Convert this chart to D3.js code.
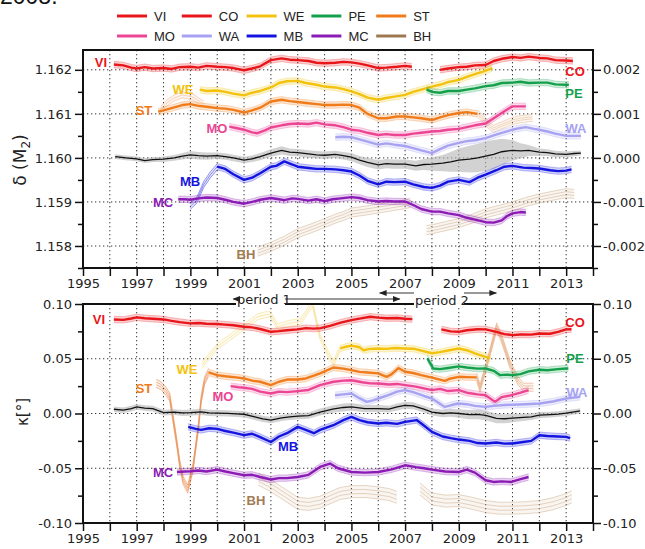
<!DOCTYPE html>
<html><head><meta charset="utf-8">
<script src="https://cdn.jsdelivr.net/npm/d3@7"></script>
<style>body{margin:0;background:#fff}svg{display:block}</style>
</head><body>
<svg id="c" width="645" height="549"></svg>
<script>
// ---------------- DATA ----------------
const stations = ["VI","CO","WE","PE","ST","MO","WA","MB","MC","BH"];
const stationColors = ["#e8161b","#e8161b","#f2c20f","#14a04a","#f07b1b","#ec4594","#a7a3f2","#1414e0","#8b1bb5","#9c7750"];
const yearTicks = d3.range(1995, 2015);
const yearLabels = [1995,1997,1999,2001,2003,2005,2007,2009,2011,2013];
const deltaTicks = [1.158,1.159,1.160,1.161,1.162];
const deltaAnomTicks = [-0.002,-0.001,0,0.001,0.002];
const kappaTicks = [-0.10,-0.05,0,0.05,0.10];

// top panel: delta(M2)
const vi_top = [[1996.15,1.16212],[1996.5,1.16210],[1996.8,1.16205],[1997.0,1.16203],[1997.3,1.16206],[1997.6,1.16203],[1998.0,1.16204],[1998.3,1.16202],[1998.6,1.16206],[1999.0,1.16207],[1999.3,1.16205],[1999.6,1.16209],[2000.0,1.16207],[2000.3,1.16206],[2000.6,1.16204],[2001.0,1.16199],[2001.3,1.16203],[2001.6,1.16208],[2002.0,1.16222],[2002.4,1.16226],[2002.7,1.16223],[2003.0,1.16222],[2003.4,1.16220],[2003.7,1.16216],[2004.0,1.16215],[2004.4,1.16216],[2004.7,1.16218],[2005.0,1.16217],[2005.3,1.16214],[2005.6,1.16210],[2006.0,1.16204],[2006.3,1.16205],[2006.7,1.16207],[2007.0,1.16209],[2007.25,1.16207]];
const co_top = [[2008.3,1.16200],[2008.6,1.16203],[2009.0,1.16206],[2009.3,1.16207],[2009.6,1.16210],[2010.0,1.16211],[2010.3,1.16220],[2010.6,1.16225],[2011.0,1.16229],[2011.3,1.16227],[2011.6,1.16230],[2012.0,1.16227],[2012.3,1.16226],[2012.6,1.16222],[2013.0,1.16221],[2013.25,1.16220]];
const we_top = [[1999.35,1.16155],[1999.6,1.16152],[2000.0,1.16153],[2000.3,1.16150],[2000.6,1.16146],[2001.0,1.16142],[2001.3,1.16148],[2001.6,1.16152],[2002.0,1.16160],[2002.3,1.16170],[2002.6,1.16174],[2003.0,1.16175],[2003.3,1.16170],[2003.7,1.16166],[2004.0,1.16162],[2004.4,1.16160],[2004.7,1.16156],[2005.0,1.16151],[2005.3,1.16145],[2005.6,1.16137],[2006.0,1.16132],[2006.3,1.16136],[2006.6,1.16139],[2007.0,1.16143],[2007.3,1.16150],[2007.6,1.16155],[2008.0,1.16162],[2008.3,1.16166],[2008.6,1.16172],[2009.0,1.16177],[2009.3,1.16184],[2009.6,1.16190],[2009.9,1.16196],[2010.25,1.16204]];
const pe_top = [[2007.8,1.16155],[2008.0,1.16150],[2008.3,1.16148],[2008.6,1.16152],[2009.0,1.16152],[2009.3,1.16155],[2009.6,1.16158],[2010.0,1.16163],[2010.3,1.16165],[2010.6,1.16170],[2011.0,1.16171],[2011.3,1.16173],[2011.6,1.16170],[2012.0,1.16171],[2012.3,1.16171],[2012.6,1.16167],[2013.0,1.16166],[2013.1,1.16166]];
const st_top = [[1997.8,1.16105],[1998.0,1.16108],[1998.3,1.16113],[1998.7,1.16120],[1999.0,1.16122],[1999.3,1.16118],[1999.6,1.16116],[2000.0,1.16113],[2000.3,1.16112],[2000.6,1.16109],[2001.0,1.16103],[2001.3,1.16108],[2001.6,1.16114],[2002.0,1.16128],[2002.4,1.16132],[2002.7,1.16129],[2003.0,1.16127],[2003.4,1.16124],[2003.7,1.16122],[2004.0,1.16120],[2004.4,1.16120],[2004.7,1.16121],[2005.0,1.16120],[2005.3,1.16114],[2005.6,1.16100],[2006.0,1.16090],[2006.3,1.16090],[2006.7,1.16094],[2007.0,1.16094],[2007.3,1.16092],[2007.6,1.16090],[2008.0,1.16086],[2008.3,1.16092],[2008.6,1.16097],[2009.0,1.16102],[2009.3,1.16104],[2009.7,1.16100]];
const st_top_weak1 = [[1997.9,1.16110],[1998.1,1.16124],[1998.4,1.16136],[1998.7,1.16143],[1999.1,1.16138],[1999.5,1.16122]];
const st_top_weak2 = [[2009.7,1.16100],[2009.9,1.16090],[2010.1,1.16075],[2010.3,1.16066],[2010.6,1.16074],[2011.0,1.16084],[2011.3,1.16088],[2011.75,1.16091]];
const mo_top = [[2000.45,1.16071],[2000.7,1.16068],[2001.0,1.16064],[2001.3,1.16058],[2001.5,1.16056],[2001.8,1.16063],[2002.0,1.16069],[2002.4,1.16074],[2002.7,1.16077],[2003.0,1.16078],[2003.4,1.16077],[2003.7,1.16080],[2004.0,1.16076],[2004.4,1.16074],[2004.7,1.16070],[2005.0,1.16064],[2005.3,1.16062],[2005.6,1.16057],[2006.0,1.16052],[2006.3,1.16054],[2006.6,1.16052],[2007.0,1.16052],[2007.3,1.16055],[2007.6,1.16057],[2008.0,1.16060],[2008.3,1.16061],[2008.6,1.16064],[2009.0,1.16066],[2009.3,1.16070],[2009.6,1.16074],[2010.0,1.16078],[2010.3,1.16090],[2010.6,1.16102],[2010.8,1.16110],[2011.0,1.16117],[2011.5,1.16117]];
const wa_top = [[2004.4,1.16047],[2004.7,1.16048],[2005.0,1.16047],[2005.3,1.16042],[2005.6,1.16037],[2006.0,1.16030],[2006.3,1.16033],[2006.6,1.16030],[2007.0,1.16027],[2007.3,1.16022],[2007.6,1.16017],[2008.0,1.16011],[2008.3,1.16020],[2008.6,1.16028],[2009.0,1.16034],[2009.3,1.16038],[2009.6,1.16040],[2010.0,1.16045],[2010.3,1.16051],[2010.6,1.16057],[2011.0,1.16064],[2011.3,1.16068],[2011.5,1.16070],[2011.8,1.16066],[2012.0,1.16064],[2012.3,1.16060],[2012.6,1.16055],[2013.0,1.16050],[2013.3,1.16050],[2013.55,1.16050]];
const mb_top_weak = [[1999.0,1.15890],[1999.25,1.15905],[1999.5,1.15940],[1999.75,1.15962],[2000.0,1.15980]];
const mb_top = [[2000.0,1.15980],[2000.3,1.15975],[2000.6,1.15963],[2001.0,1.15950],[2001.3,1.15955],[2001.6,1.15965],[2002.0,1.15980],[2002.2,1.15982],[2002.5,1.15992],[2002.8,1.15985],[2003.0,1.15980],[2003.4,1.15977],[2003.7,1.15975],[2004.0,1.15975],[2004.4,1.15974],[2004.7,1.15972],[2005.0,1.15969],[2005.3,1.15960],[2005.6,1.15948],[2006.0,1.15940],[2006.3,1.15946],[2006.6,1.15945],[2007.0,1.15946],[2007.3,1.15940],[2007.7,1.15934],[2008.0,1.15932],[2008.3,1.15937],[2008.6,1.15946],[2009.0,1.15950],[2009.4,1.15945],[2009.7,1.15955],[2010.0,1.15962],[2010.4,1.15972],[2010.7,1.15980],[2011.0,1.15982],[2011.4,1.15978],[2011.7,1.15977],[2012.0,1.15976],[2012.4,1.15972],[2012.7,1.15970],[2013.0,1.15971],[2013.2,1.15974]];
const mc_top = [[1998.55,1.15906],[1998.8,1.15906],[1999.0,1.15905],[1999.3,1.15908],[1999.6,1.15910],[2000.0,1.15909],[2000.3,1.15905],[2000.6,1.15900],[2001.0,1.15896],[2001.3,1.15900],[2001.6,1.15905],[2002.0,1.15909],[2002.3,1.15906],[2002.5,1.15904],[2002.8,1.15908],[2003.0,1.15907],[2003.4,1.15903],[2003.7,1.15906],[2004.0,1.15902],[2004.3,1.15906],[2004.6,1.15908],[2005.0,1.15911],[2005.3,1.15909],[2005.6,1.15904],[2006.0,1.15901],[2006.3,1.15902],[2006.6,1.15901],[2007.0,1.15901],[2007.3,1.15893],[2007.6,1.15884],[2008.0,1.15878],[2008.3,1.15878],[2008.6,1.15874],[2009.0,1.15870],[2009.3,1.15864],[2009.6,1.15860],[2010.0,1.15854],[2010.3,1.15853],[2010.6,1.15858],[2010.8,1.15868],[2011.0,1.15874],[2011.3,1.15877],[2011.5,1.15876]];
const bh_top_a = [[2001.5,1.15787],[2002.0,1.15798],[2002.5,1.15812],[2003.0,1.15829],[2003.5,1.15840],[2004.0,1.15852],[2004.4,1.15862],[2004.7,1.15868],[2005.0,1.15876],[2005.5,1.15880],[2006.0,1.15885],[2006.5,1.15890],[2007.0,1.15895],[2007.2,1.15898]];
const bh_top_b = [[2007.8,1.15836],[2008.0,1.15838],[2008.5,1.15845],[2009.0,1.15852],[2009.5,1.15862],[2010.0,1.15874],[2010.5,1.15882],[2011.0,1.15890],[2011.5,1.15900],[2012.0,1.15908],[2012.5,1.15914],[2013.0,1.15920],[2013.3,1.15918]];
// mean curve: [year, value, uncertainty]
const mean_top = [[1996.2,1.16003,0.00002],[1996.6,1.16000,0.00002],[1997.0,1.15998,0.00002],[1997.3,1.15994,0.00002],[1997.6,1.15996,0.00002],[1998.0,1.15997,0.00003],[1998.4,1.16000,0.00003],[1998.7,1.16004,0.00004],[1999.0,1.16007,0.00005],[1999.3,1.16005,0.00005],[1999.6,1.16004,0.00005],[2000.0,1.16005,0.00004],[2000.3,1.16003,0.00004],[2000.6,1.16000,0.00004],[2001.0,1.15995,0.00004],[2001.3,1.15998,0.00004],[2001.6,1.16003,0.00005],[2002.0,1.16011,0.00005],[2002.4,1.16017,0.00006],[2002.7,1.16013,0.00005],[2003.0,1.16012,0.00005],[2003.4,1.16009,0.00005],[2003.7,1.16007,0.00005],[2004.0,1.16006,0.00005],[2004.4,1.16008,0.00005],[2004.7,1.16005,0.00005],[2005.0,1.16002,0.00006],[2005.3,1.15995,0.00006],[2005.6,1.15990,0.00007],[2006.0,1.15984,0.00007],[2006.3,1.15987,0.00007],[2006.6,1.15986,0.00007],[2007.0,1.15986,0.00007],[2007.4,1.15982,0.00008],[2007.7,1.15985,0.00009],[2008.0,1.15986,0.00012],[2008.4,1.15988,0.00015],[2008.7,1.15991,0.00019],[2009.0,1.15995,0.00023],[2009.4,1.15997,0.00027],[2009.7,1.16000,0.00029],[2010.0,1.16004,0.00030],[2010.3,1.16008,0.00029],[2010.6,1.16014,0.00026],[2011.0,1.16017,0.00020],[2011.3,1.16016,0.00014],[2011.6,1.16017,0.00009],[2012.0,1.16013,0.00005],[2012.3,1.16012,0.00004],[2012.6,1.16009,0.00004],[2013.0,1.16008,0.00003],[2013.3,1.16010,0.00003],[2013.55,1.16011,0.00002]];

// bottom panel: kappa (deg)
const vi_bot = [[1996.15,0.0859],[1996.5,0.0855],[1996.8,0.0868],[1997.0,0.0878],[1997.3,0.0870],[1997.6,0.0865],[1998.0,0.0859],[1998.3,0.0846],[1998.6,0.0835],[1999.0,0.0823],[1999.3,0.0826],[1999.6,0.0820],[2000.0,0.0817],[2000.3,0.0812],[2000.6,0.0806],[2001.0,0.0792],[2001.3,0.0787],[2001.6,0.0772],[2002.0,0.0746],[2002.3,0.0752],[2002.6,0.0760],[2003.0,0.0768],[2003.3,0.0780],[2003.6,0.0775],[2003.85,0.0780],[2004.2,0.0800],[2004.6,0.0830],[2005.0,0.0853],[2005.3,0.0866],[2005.7,0.0884],[2006.0,0.0876],[2006.3,0.0870],[2006.7,0.0872],[2007.0,0.0865],[2007.27,0.0862]];
const co_bot = [[2008.35,0.0768],[2008.7,0.0750],[2009.0,0.0746],[2009.3,0.0760],[2009.7,0.0770],[2010.0,0.0768],[2010.4,0.0745],[2010.7,0.0725],[2011.0,0.0716],[2011.3,0.0722],[2011.7,0.0720],[2012.0,0.0731],[2012.4,0.0728],[2012.7,0.0745],[2013.0,0.0768],[2013.2,0.0770]];
const we_bot_weak = [[1999.43,0.0441],[2000.0,0.0610],[2000.5,0.0700],[2001.0,0.0790],[2001.5,0.0883],[2001.85,0.0905],[2002.0,0.0900],[2002.25,0.0790],[2002.7,0.0825],[2003.1,0.0838],[2003.4,0.0948],[2003.55,0.1000],[2003.83,0.0700],[2004.1,0.0560],[2004.33,0.0457],[2004.58,0.0594]];
const we_bot = [[2004.58,0.0594],[2004.8,0.0610],[2005.0,0.0620],[2005.3,0.0605],[2005.45,0.0578],[2005.7,0.0590],[2006.0,0.0594],[2006.3,0.0590],[2006.6,0.0598],[2007.0,0.0594],[2007.3,0.0592],[2007.6,0.0575],[2008.0,0.0550],[2008.3,0.0560],[2008.6,0.0575],[2009.0,0.0594],[2009.3,0.0578],[2009.6,0.0550],[2010.0,0.0518],[2010.17,0.0505]];
const pe_bot = [[2007.83,0.0503],[2008.05,0.0411],[2008.3,0.0405],[2008.6,0.0415],[2009.0,0.0430],[2009.3,0.0420],[2009.7,0.0410],[2010.0,0.0411],[2010.3,0.0390],[2010.54,0.0350],[2010.8,0.0355],[2011.0,0.0350],[2011.3,0.0360],[2011.6,0.0385],[2012.0,0.0400],[2012.3,0.0395],[2012.7,0.0405],[2013.0,0.0411],[2013.08,0.0411]];
const st_bot_weak1 = [[1997.73,0.0274],[1997.9,0.0255],[1998.1,0.0200],[1998.23,0.0150],[1998.48,-0.0244],[1998.6,-0.0455],[1998.73,-0.0610],[1998.9,-0.0690],[1999.1,-0.0490],[1999.3,-0.0122],[1999.4,0.0122],[1999.53,0.0300],[1999.68,0.0375]];
const st_bot = [[1999.68,0.0375],[2000.0,0.0351],[2000.3,0.0340],[2000.7,0.0330],[2001.0,0.0320],[2001.3,0.0300],[2001.6,0.0290],[2002.0,0.0259],[2002.3,0.0290],[2002.6,0.0310],[2003.0,0.0310],[2003.3,0.0320],[2003.6,0.0345],[2003.83,0.0366],[2004.33,0.0420],[2004.7,0.0410],[2005.0,0.0396],[2005.3,0.0380],[2005.6,0.0375],[2006.0,0.0366],[2006.31,0.0335],[2006.5,0.0360],[2006.75,0.0415],[2007.0,0.0381],[2007.3,0.0370],[2007.6,0.0350],[2008.0,0.0328],[2008.48,0.0298],[2008.7,0.0320],[2009.0,0.0335],[2009.3,0.0332],[2009.67,0.0330]];
const st_bot_weak2 = [[2009.67,0.0330],[2009.79,0.0230],[2010.1,0.0500],[2010.41,0.0790],[2010.6,0.0680],[2010.91,0.0450],[2011.2,0.0300],[2011.41,0.0240],[2011.78,0.0240]];
const mo_bot = [[2000.5,0.0250],[2000.8,0.0240],[2001.0,0.0235],[2001.3,0.0225],[2001.6,0.0200],[2002.0,0.0183],[2002.3,0.0200],[2002.6,0.0195],[2003.0,0.0204],[2003.4,0.0215],[2003.83,0.0259],[2004.33,0.0290],[2004.7,0.0300],[2005.0,0.0304],[2005.4,0.0285],[2005.7,0.0275],[2006.0,0.0274],[2006.4,0.0265],[2006.7,0.0270],[2007.0,0.0259],[2007.4,0.0245],[2007.7,0.0230],[2008.0,0.0213],[2008.3,0.0225],[2008.6,0.0205],[2009.0,0.0213],[2009.3,0.0190],[2009.7,0.0175],[2010.0,0.0167],[2010.35,0.0106],[2010.6,0.0150],[2010.96,0.0167],[2011.3,0.0190],[2011.6,0.0213]];
const wa_bot = [[2004.39,0.0167],[2004.7,0.0175],[2005.0,0.0183],[2005.3,0.0140],[2005.57,0.0106],[2005.8,0.0120],[2006.0,0.0137],[2006.4,0.0170],[2006.7,0.0200],[2007.0,0.0213],[2007.3,0.0195],[2007.7,0.0160],[2008.0,0.0137],[2008.48,0.0060],[2008.7,0.0075],[2008.97,0.0091],[2009.3,0.0085],[2009.6,0.0070],[2010.0,0.0060],[2010.3,0.0070],[2010.7,0.0078],[2011.0,0.0080],[2011.5,0.0085],[2012.0,0.0091],[2012.5,0.0110],[2013.0,0.0137],[2013.52,0.0152]];
const mb_bot = [[1998.92,-0.0122],[1999.2,-0.0140],[1999.4,-0.0150],[1999.7,-0.0135],[2000.0,-0.0140],[2000.3,-0.0160],[2000.6,-0.0175],[2001.0,-0.0198],[2001.3,-0.0185],[2001.6,-0.0215],[2002.0,-0.0260],[2002.3,-0.0210],[2002.6,-0.0180],[2003.0,-0.0122],[2003.3,-0.0150],[2003.6,-0.0180],[2003.83,-0.0150],[2004.33,-0.0107],[2004.7,-0.0060],[2005.0,-0.0031],[2005.3,-0.0060],[2005.6,-0.0080],[2006.0,-0.0091],[2006.3,-0.0085],[2006.7,-0.0095],[2007.0,-0.0076],[2007.43,-0.0060],[2007.7,-0.0110],[2008.0,-0.0168],[2008.4,-0.0210],[2008.7,-0.0225],[2009.0,-0.0238],[2009.4,-0.0250],[2009.7,-0.0270],[2010.0,-0.0274],[2010.4,-0.0265],[2010.7,-0.0275],[2011.0,-0.0274],[2011.4,-0.0260],[2011.7,-0.0250],[2012.0,-0.0198],[2012.3,-0.0205],[2012.7,-0.0210],[2013.0,-0.0213],[2013.15,-0.0225]];
const mc_bot = [[1998.5,-0.0534],[1998.8,-0.0530],[1999.0,-0.0528],[1999.3,-0.0520],[1999.6,-0.0530],[2000.0,-0.0513],[2000.3,-0.0530],[2000.6,-0.0545],[2001.0,-0.0564],[2001.3,-0.0560],[2001.6,-0.0580],[2002.0,-0.0603],[2002.3,-0.0590],[2002.6,-0.0590],[2003.0,-0.0580],[2003.4,-0.0560],[2003.83,-0.0488],[2004.2,-0.0457],[2004.5,-0.0500],[2005.0,-0.0534],[2005.5,-0.0540],[2006.0,-0.0534],[2006.5,-0.0510],[2007.0,-0.0473],[2007.4,-0.0490],[2007.7,-0.0500],[2008.0,-0.0513],[2008.5,-0.0530],[2009.0,-0.0534],[2009.3,-0.0513],[2009.6,-0.0540],[2010.0,-0.0610],[2010.29,-0.0625],[2010.6,-0.0620],[2010.96,-0.0625],[2011.3,-0.0600],[2011.6,-0.0580]];
const bh_bot_a = [[2001.53,-0.0600],[2002.0,-0.0660],[2002.5,-0.0740],[2003.0,-0.0820],[2003.4,-0.0830],[2003.83,-0.0810],[2004.2,-0.0770],[2004.58,-0.0730],[2005.0,-0.0715],[2005.5,-0.0712],[2006.0,-0.0725],[2006.4,-0.0740],[2006.69,-0.0765]];
const bh_bot_b = [[2007.56,-0.0690],[2007.8,-0.0740],[2008.0,-0.0780],[2008.5,-0.0800],[2009.0,-0.0795],[2009.5,-0.0820],[2010.0,-0.0850],[2010.5,-0.0865],[2011.0,-0.0865],[2011.5,-0.0860],[2012.0,-0.0850],[2012.5,-0.0825],[2013.0,-0.0785],[2013.21,-0.0760]];
const mean_bot = [[1996.15,0.0039,0.0012],[1996.5,0.0030,0.0012],[1996.8,0.0045,0.0012],[1997.0,0.0061,0.0012],[1997.3,0.0050,0.0012],[1997.6,0.0045,0.0012],[1998.0,0.0008,0.0012],[1998.4,0.0012,0.0012],[1998.7,0.0005,0.0014],[1999.0,0.0008,0.0015],[1999.4,0.0015,0.0015],[1999.7,0.0005,0.0015],[2000.0,0.0003,0.0015],[2000.4,0.0002,0.0015],[2000.7,-0.0003,0.0015],[2001.0,-0.0007,0.0015],[2001.4,-0.0030,0.0015],[2001.7,-0.0050,0.0015],[2002.0,-0.0061,0.0015],[2002.4,-0.0040,0.0015],[2002.7,-0.0030,0.0015],[2003.0,-0.0024,0.0015],[2003.4,-0.0020,0.0015],[2003.83,0.0013,0.0018],[2004.3,0.0040,0.0020],[2004.7,0.0055,0.0022],[2005.0,0.0060,0.0022],[2005.5,0.0045,0.0020],[2006.0,0.0045,0.0018],[2006.4,0.0040,0.0018],[2006.7,0.0060,0.0018],[2007.0,0.0074,0.0018],[2007.3,0.0070,0.0018],[2007.7,0.0040,0.0018],[2008.0,0.0013,0.0018],[2008.4,0.0000,0.0020],[2008.7,0.0005,0.0022],[2009.0,0.0000,0.0025],[2009.4,-0.0010,0.0028],[2009.7,-0.0008,0.0030],[2010.0,-0.0017,0.0030],[2010.4,-0.0045,0.0030],[2010.7,-0.0048,0.0028],[2011.0,-0.0042,0.0025],[2011.4,-0.0035,0.0020],[2011.7,-0.0030,0.0016],[2012.0,-0.0015,0.0014],[2012.4,-0.0010,0.0012],[2012.7,-0.0005,0.0012],[2013.0,0.0003,0.0012],[2013.3,0.0015,0.0010],[2013.52,0.0024,0.0010]];

// ---------------- CHART ----------------
const svg = d3.select("#c");
const col = Object.fromEntries(stations.map((s,i)=>[s, stationColors[i]]));
const x = d3.scaleLinear().domain([1995,2014]).range([83,593]);
const yT = d3.scaleLinear().domain([1.1575,1.16245]).range([268,50]);
const yTR = d3.scaleLinear().domain([1.1575-1.16,1.16245-1.16]).range([268,50]);
const yB = d3.scaleLinear().domain([-0.10,0.10]).range([523,304]);
const TICKFONT = "'DejaVu Sans', Verdana, sans-serif";

// caption fragment at top (cropped in the original figure)
svg.append("text").attr("x",0).attr("y",4).attr("font-family","'Liberation Sans',Arial,sans-serif")
  .attr("font-size",23).attr("fill","#111").text("2008.");

// legend
const legG = svg.append("g");
stations.forEach((s,i)=>{
  const r = Math.floor(i/5), c = i%5;
  const lx = 117 + c*64.8, ly = 16 + r*20;
  legG.append("line").attr("x1",lx).attr("x2",lx+30).attr("y1",ly).attr("y2",ly)
    .attr("stroke",col[s]).attr("stroke-width",3);
  legG.append("text").attr("x",lx+37).attr("y",ly+4.5).attr("font-family","'Liberation Sans',Arial,sans-serif")
    .attr("font-size",13).attr("fill","#222").text(s);
});

function panel(ys, yticks, yMinor, fmtL, ysR, yticksR, fmtR, yMinorR, top, bottom, clipId) {
  const g = svg.append("g");
  g.selectAll(null).data(yearTicks.filter(d=>d>1995 && d<2014)).join("line")
    .attr("x1",d=>x(d)).attr("x2",d=>x(d)).attr("y1",top).attr("y2",bottom)
    .attr("stroke","#333").attr("stroke-width",1).attr("stroke-dasharray","1.3,2.7");
  g.selectAll(null).data(yticks.filter(d=>ys(d)>top+2 && ys(d)<bottom-2)).join("line")
    .attr("x1",83).attr("x2",593).attr("y1",d=>ys(d)).attr("y2",d=>ys(d))
    .attr("stroke","#333").attr("stroke-width",1).attr("stroke-dasharray","1.3,2.7");
  svg.append("clipPath").attr("id",clipId).append("rect").attr("x",83).attr("y",top).attr("width",510).attr("height",bottom-top);
  const plot = svg.append("g").attr("clip-path",`url(#${clipId})`);
  const aL = d3.axisLeft(ys).tickValues(yticks).tickFormat(fmtL).tickSize(8).tickPadding(3);
  const aLm = d3.axisLeft(ys).tickValues(yMinor).tickFormat("").tickSize(5);
  const aR = d3.axisRight(ysR).tickValues(yticksR).tickFormat(fmtR).tickSize(8).tickPadding(2);
  const aRm = d3.axisRight(ysR).tickValues(yMinorR).tickFormat("").tickSize(5);
  const aB = d3.axisBottom(x).tickValues(yearTicks).tickFormat(d=>yearLabels.includes(d)?String(d):"").tickSize(8).tickPadding(3);
  [[aL,83,0],[aLm,83,0],[aR,593,0],[aRm,593,0],[aB,0,bottom]].forEach(([a,tx,ty])=>{
    const ag = svg.append("g").attr("transform",`translate(${tx},${ty})`).call(a);
    ag.select(".domain").remove();
    ag.selectAll("line").attr("stroke","#111").attr("stroke-width",1.5);
    ag.selectAll("text").attr("font-family",TICKFONT).attr("font-size",13).attr("fill","#222");
  });
  svg.append("rect").attr("x",83).attr("y",top).attr("width",510).attr("height",bottom-top)
    .attr("fill","none").attr("stroke","#111").attr("stroke-width",2);
  return plot;
}

function lineGen(ys, off){ return d3.line().x(d=>x(d[0])).y(d=>ys(d[1])+off); }
function drawSolid(g, data, ys, color){
  g.append("path").attr("d", d3.area().x(d=>x(d[0])).y0(d=>ys(d[1])+3.2).y1(d=>ys(d[1])-3.2)(data))
    .attr("fill",color).attr("opacity",0.2);
  [-3.2,3.2].forEach(o=>g.append("path").attr("d",lineGen(ys,o)(data)).attr("fill","none")
    .attr("stroke",color).attr("stroke-width",0.6).attr("opacity",0.45));
  g.append("path").attr("d",lineGen(ys,0)(data)).attr("fill","none").attr("stroke",color)
    .attr("stroke-width",2.4).attr("stroke-linejoin","round");
}
function drawWeak(g, data, ys, color, offs, op){
  g.append("path").attr("d", d3.area().x(d=>x(d[0])).y0(d=>ys(d[1])+offs[offs.length-1]).y1(d=>ys(d[1])+offs[0])(data))
    .attr("fill",color).attr("opacity",0.1);
  offs.forEach(o=>g.append("path").attr("d",lineGen(ys,o)(data)).attr("fill","none")
    .attr("stroke",color).attr("stroke-width",0.8).attr("opacity",op||0.55));
}
function drawMean(g, data, ys){
  g.append("path").attr("d", d3.area().x(d=>x(d[0])).y0(d=>ys(d[1]-d[2])+1.5).y1(d=>ys(d[1]+d[2])-1.5)(data))
    .attr("fill","#b4b4b4").attr("opacity",0.6);
  g.append("path").attr("d",lineGen(ys,0)(data)).attr("fill","none").attr("stroke","#111").attr("stroke-width",1.3);
}

const fmt3 = d => (d< -1e-9?"-":"") + Math.abs(d).toFixed(3);
const fmt2 = d => (d< -1e-9?"-":"") + Math.abs(d).toFixed(2);

// ---- top panel ----
const pT = panel(yT, deltaTicks, [1.1575,1.1585,1.1595,1.1605,1.1615], fmt3,
  yTR, deltaAnomTicks, fmt3, [-0.0025,-0.0015,-0.0005,0.0005,0.0015], 50, 268, "clipT");
const lightBH = "#c9a07a";
drawWeak(pT, bh_top_a, yT, lightBH, [-4.5,-1.5,1.5,4.5]);
drawWeak(pT, bh_top_b, yT, lightBH, [-4.5,-1.5,1.5,4.5]);
drawWeak(pT, st_top_weak1, yT, "#f0a070", [-3,0,3]);
drawWeak(pT, st_top_weak2, yT, "#e0a878", [-3.5,-1,1,3.5]);
drawWeak(pT, mb_top_weak, yT, col.MB, [-3,0,3]);
drawMean(pT, mean_top, yT);
[[vi_top,"VI"],[co_top,"CO"],[we_top,"WE"],[pe_top,"PE"],[st_top,"ST"],[mo_top,"MO"],[wa_top,"WA"],[mb_top,"MB"],[mc_top,"MC"]]
  .forEach(([d,s])=>drawSolid(pT,d,yT,col[s]));

// ---- bottom panel ----
const pB = panel(yB, kappaTicks, [-0.075,-0.025,0.025,0.075], fmt2,
  yB, kappaTicks, fmt2, [-0.075,-0.025,0.025,0.075], 304, 523, "clipB");
drawWeak(pB, bh_bot_a, yB, lightBH, [-6,-2,2,6]);
drawWeak(pB, bh_bot_b, yB, lightBH, [-6,-2,2,6]);
drawWeak(pB, we_bot_weak, yB, "#f3d36a", [-3,0,3]);
drawWeak(pB, st_bot_weak1, yB, "#e98a4e", [-4,-1.3,1.3,4], 0.75);
drawWeak(pB, st_bot_weak2, yB, "#e39a66", [-4,-1.3,1.3,4], 0.7);
drawMean(pB, mean_bot, yB);
[[vi_bot,"VI"],[co_bot,"CO"],[we_bot,"WE"],[pe_bot,"PE"],[st_bot,"ST"],[mo_bot,"MO"],[wa_bot,"WA"],[mb_bot,"MB"],[mc_bot,"MC"]]
  .forEach(([d,s])=>drawSolid(pB,d,yB,col[s]));

// station labels (pixel placement)
const labelPos = {
  top: {VI:[101,62],CO:[575,71],WE:[183,89],PE:[574,93],ST:[144,110],MO:[217,128],WA:[576,128],MB:[190,181],MC:[163,202],BH:[246,254]},
  bot: {VI:[99,319],CO:[575,322],WE:[187,369],PE:[575,358],ST:[144,388],MO:[223,396],WA:[577,392],MB:[288,446],MC:[163,472],BH:[256,500]}
};
["top","bot"].forEach(p=>{
  stations.forEach(s=>{
    const [lx,ly] = labelPos[p][s];
    svg.append("text").attr("x",lx).attr("y",ly+4.6).attr("text-anchor","middle")
      .attr("font-family","'Liberation Sans',Arial,sans-serif").attr("font-weight","bold").attr("font-size",13)
      .attr("fill", s==="BH" ? "#a47c52" : col[s]).text(s);
  });
});

// axis titles
const t1 = svg.append("text").attr("transform","translate(26,160) rotate(-90)").attr("text-anchor","middle")
  .attr("font-family",TICKFONT).attr("font-size",17).attr("fill","#222");
t1.append("tspan").text("δ (M");
t1.append("tspan").attr("font-size",12).attr("dy",4).text("2");
t1.append("tspan").attr("dy",-4).text(")");
svg.append("text").attr("transform","translate(28,412) rotate(-90)").attr("text-anchor","middle")
  .attr("font-family",TICKFONT).attr("font-size",15).attr("fill","#222").text("κ[°]");

// period annotations
const pg = svg.append("g");
svg.append("defs").html('<marker id="ah" viewBox="0 0 10 10" refX="9" refY="5" markerWidth="6" markerHeight="6" orient="auto-start-reverse"><path d="M0,1 L10,5 L0,9 z" fill="#222"/></marker>');
pg.append("rect").attr("x",236).attr("y",292).attr("width",49).attr("height",14).attr("fill","#fff");
pg.append("rect").attr("x",414).attr("y",293).attr("width",50).attr("height",14).attr("fill","#fff");
pg.append("line").attr("x1",x(2000.6)).attr("x2",236).attr("y1",299).attr("y2",299).attr("stroke","#777").attr("stroke-width",1.3).attr("marker-start","url(#ah)");
pg.append("line").attr("x1",285).attr("x2",x(2006.8)).attr("y1",299).attr("y2",299).attr("stroke","#777").attr("stroke-width",1.3).attr("marker-end","url(#ah)");
pg.append("text").attr("x",237).attr("y",304).attr("font-family",TICKFONT).attr("font-size",13).attr("fill","#222").text("period 1");
pg.append("line").attr("x1",x(2006.05)).attr("x2",414).attr("y1",293).attr("y2",293).attr("stroke","#777").attr("stroke-width",1.3).attr("marker-start","url(#ah)");
pg.append("line").attr("x1",464).attr("x2",x(2010.4)).attr("y1",293).attr("y2",293).attr("stroke","#777").attr("stroke-width",1.3).attr("marker-end","url(#ah)");
pg.append("text").attr("x",415).attr("y",305).attr("font-family",TICKFONT).attr("font-size",13).attr("fill","#222").text("period 2");
</script>
</body></html>
